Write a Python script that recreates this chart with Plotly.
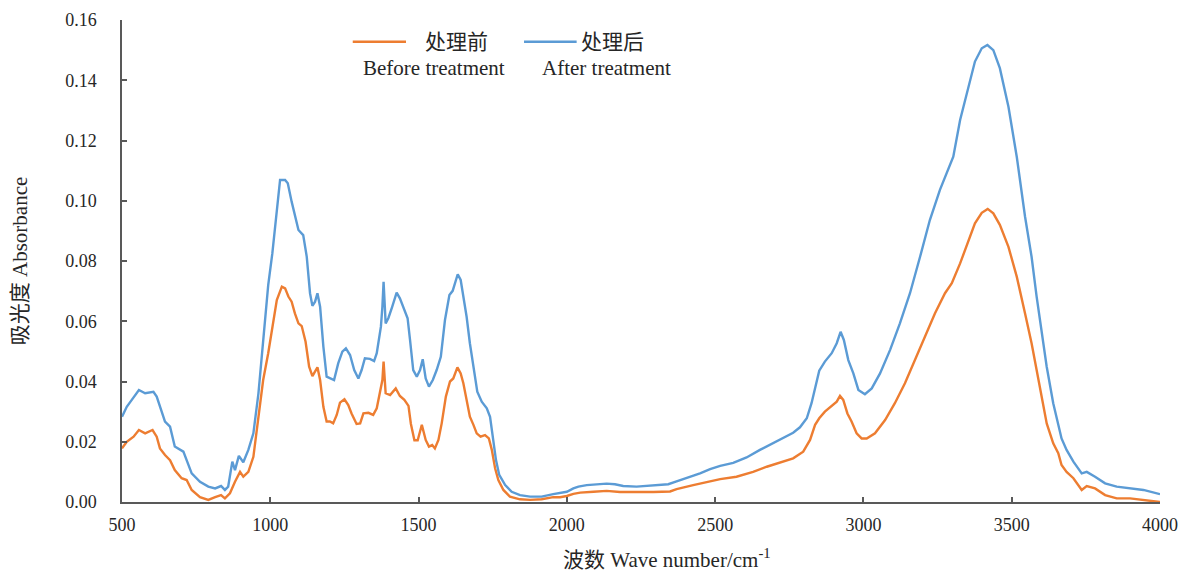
import plotly.graph_objects as go

# ---- data ----
wn_before = [500, 516, 539, 557, 578, 603, 617, 628, 645, 662, 678, 701, 718, 735, 763, 791, 814, 834, 847,
             864, 881, 898, 909, 926, 943, 960, 976, 993, 1010, 1022, 1039, 1050, 1061, 1072, 1083, 1095,
             1106, 1119, 1131, 1142, 1159, 1168, 1179, 1190, 1201, 1212, 1224, 1235, 1250, 1263, 1274, 1291,
             1303, 1314, 1331, 1347, 1359, 1372, 1378, 1382, 1389, 1404, 1423, 1437, 1452, 1466, 1474, 1486,
             1497, 1511, 1524, 1535, 1546, 1555, 1567, 1578, 1592, 1606, 1617, 1631, 1642, 1651, 1662, 1673,
             1685, 1696, 1709, 1724, 1737, 1747, 1758, 1769, 1786, 1808, 1842, 1876, 1915, 1954, 1977, 2000,
             2022, 2045, 2090, 2134, 2179, 2235, 2292, 2348, 2370, 2426, 2483, 2517, 2572, 2628, 2674, 2719,
             2763, 2797, 2820, 2837, 2851, 2870, 2893, 2910, 2921, 2932, 2946, 2960, 2977, 2994, 3011, 3039,
             3073, 3106, 3140, 3174, 3208, 3241, 3275, 3298, 3326, 3354, 3376, 3399, 3419, 3438, 3460, 3489,
             3517, 3545, 3567, 3584, 3601, 3618, 3640, 3657, 3668, 3685, 3708, 3736, 3753, 3781, 3815, 3854,
             3899, 3944, 4000]
abs_before = [0.0178, 0.0200, 0.0217, 0.0239, 0.0228, 0.0239, 0.0217, 0.0178, 0.0156, 0.0139, 0.0106, 0.0079,
              0.0073, 0.0040, 0.0016, 0.0007, 0.0016, 0.0023, 0.0012, 0.0029, 0.0067, 0.0100, 0.0084, 0.0100,
              0.0150, 0.0272, 0.0405, 0.0494, 0.0590, 0.0670, 0.0715, 0.0709, 0.0682, 0.0665, 0.0626, 0.0593,
              0.0584, 0.0532, 0.0449, 0.0418, 0.0447, 0.0405, 0.0316, 0.0267, 0.0267, 0.0261, 0.0289, 0.0330,
              0.0341, 0.0322, 0.0294, 0.0259, 0.0261, 0.0294, 0.0296, 0.0289, 0.0311, 0.0372, 0.0405, 0.0466,
              0.0361, 0.0355, 0.0377, 0.0352, 0.0339, 0.0319, 0.0260, 0.0205, 0.0205, 0.0256, 0.0206, 0.0184,
              0.0189, 0.0178, 0.0206, 0.0261, 0.0350, 0.0400, 0.0410, 0.0447, 0.0427, 0.0394, 0.0339, 0.0283,
              0.0256, 0.0228, 0.0217, 0.0222, 0.0211, 0.0173, 0.0112, 0.0073, 0.0040, 0.0018, 0.0009, 0.0007,
              0.0009, 0.0016, 0.0016, 0.0020, 0.0027, 0.0031, 0.0034, 0.0037, 0.0033, 0.0032, 0.0033, 0.0035,
              0.0043, 0.0056, 0.0070, 0.0076, 0.0084, 0.0100, 0.0117, 0.0130, 0.0145, 0.0167, 0.0206, 0.0256,
              0.0278, 0.0300, 0.0319, 0.0333, 0.0352, 0.0339, 0.0294, 0.0267, 0.0228, 0.0211, 0.0211, 0.0228,
              0.0272, 0.0328, 0.0394, 0.0471, 0.0549, 0.0626, 0.0693, 0.0726, 0.0792, 0.0870, 0.0925, 0.0960,
              0.0973, 0.0958, 0.0920, 0.0847, 0.0748, 0.0626, 0.0527, 0.0438, 0.0350, 0.0261, 0.0195, 0.0162,
              0.0123, 0.0100, 0.0079, 0.0040, 0.0053, 0.0045, 0.0023, 0.0012, 0.0012, 0.0007, 0.0000]

wn_after = [500, 516, 533, 557, 578, 606, 617, 628, 645, 662, 678, 707, 718, 735, 763, 791, 814, 834, 847,
            858, 872, 881, 894, 909, 926, 943, 960, 976, 993, 1007, 1022, 1033, 1050, 1059, 1072, 1086, 1095,
            1111, 1123, 1134, 1142, 1151, 1159, 1168, 1179, 1190, 1201, 1215, 1229, 1243, 1255, 1269, 1283,
            1297, 1308, 1319, 1336, 1350, 1359, 1373, 1378, 1382, 1389, 1398, 1411, 1426, 1437, 1449, 1463,
            1471, 1482, 1494, 1505, 1514, 1524, 1535, 1548, 1561, 1575, 1589, 1604, 1615, 1625, 1632, 1642,
            1651, 1662, 1673, 1685, 1698, 1713, 1730, 1741, 1752, 1761, 1772, 1792, 1814, 1842, 1876, 1915,
            1954, 1977, 2000, 2022, 2039, 2067, 2101, 2134, 2162, 2190, 2235, 2292, 2342, 2365, 2404, 2449,
            2483, 2517, 2561, 2606, 2651, 2696, 2730, 2763, 2786, 2809, 2825, 2840, 2851, 2870, 2893, 2910,
            2923, 2934, 2949, 2966, 2983, 3005, 3028, 3056, 3090, 3123, 3157, 3191, 3224, 3258, 3286, 3303,
            3326, 3354, 3376, 3399, 3418, 3438, 3460, 3489, 3517, 3545, 3567, 3584, 3601, 3618, 3640, 3657,
            3668, 3685, 3708, 3736, 3753, 3781, 3815, 3854, 3899, 3944, 4000]
abs_after = [0.0283, 0.0316, 0.0339, 0.0372, 0.0361, 0.0366, 0.0350, 0.0316, 0.0267, 0.0250, 0.0184, 0.0167,
             0.0139, 0.0095, 0.0067, 0.0051, 0.0045, 0.0053, 0.0040, 0.0051, 0.0134, 0.0106, 0.0153, 0.0132,
             0.0173, 0.0228, 0.0360, 0.0527, 0.0720, 0.0826, 0.0980, 0.1069, 0.1069, 0.1058, 0.0997, 0.0936,
             0.0903, 0.0886, 0.0814, 0.0693, 0.0651, 0.0665, 0.0693, 0.0648, 0.0516, 0.0416, 0.0410, 0.0405,
             0.0460, 0.0499, 0.0510, 0.0488, 0.0438, 0.0410, 0.0438, 0.0477, 0.0475, 0.0468, 0.0494, 0.0582,
             0.0648, 0.0731, 0.0593, 0.0610, 0.0648, 0.0695, 0.0676, 0.0648, 0.0610, 0.0540, 0.0438, 0.0416,
             0.0438, 0.0474, 0.0410, 0.0383, 0.0405, 0.0438, 0.0482, 0.0604, 0.0687, 0.0701, 0.0737, 0.0756,
             0.0737, 0.0682, 0.0615, 0.0527, 0.0449, 0.0366, 0.0333, 0.0311, 0.0283, 0.0206, 0.0139, 0.0090,
             0.0056, 0.0034, 0.0023, 0.0018, 0.0018, 0.0026, 0.0029, 0.0034, 0.0045, 0.0051, 0.0056, 0.0059,
             0.0061, 0.0059, 0.0053, 0.0051, 0.0054, 0.0059, 0.0067, 0.0079, 0.0095, 0.0109, 0.0120, 0.0130,
             0.0148, 0.0173, 0.0197, 0.0213, 0.0230, 0.0248, 0.0278, 0.0328, 0.0394, 0.0436, 0.0466, 0.0494,
             0.0527, 0.0565, 0.0538, 0.0471, 0.0427, 0.0372, 0.0358, 0.0377, 0.0427, 0.0505, 0.0593, 0.0693,
             0.0814, 0.0936, 0.1036, 0.1108, 0.1146, 0.1268, 0.1379, 0.1462, 0.1506, 0.1517, 0.1500, 0.1440,
             0.1312, 0.1146, 0.0947, 0.0814, 0.0682, 0.0571, 0.0449, 0.0328, 0.0261, 0.0211, 0.0173, 0.0134,
             0.0095, 0.0100, 0.0084, 0.0062, 0.0051, 0.0045, 0.0040, 0.0026]

x_ticks = [500, 1000, 1500, 2000, 2500, 3000, 3500, 4000]
y_ticks = [0.00, 0.02, 0.04, 0.06, 0.08, 0.10, 0.12, 0.14, 0.16]

name_before_cn, name_before_en = "处理前", "Before treatment"
name_after_cn, name_after_en = "处理后", "After treatment"
x_title = "波数 Wave number/cm<sup>-1</sup>"
y_title = "吸光度 Absorbance"

ORANGE = "#ED7D31"
BLUE = "#5B9BD5"
AXIS = "#595959"
SERIF = "Liberation Serif, Times New Roman, serif"
CJK_SERIF = "Liberation Serif, Noto Sans CJK SC, serif"

fig = go.Figure()
fig.add_trace(go.Scatter(x=wn_before, y=abs_before, mode="lines", name=name_before_cn,
                         line=dict(color=ORANGE, width=2.4), showlegend=False))
fig.add_trace(go.Scatter(x=wn_after, y=abs_after, mode="lines", name=name_after_cn,
                         line=dict(color=BLUE, width=2.4), showlegend=False))

# custom legend (line samples + two-line labels)
fig.add_shape(type="line", xref="paper", yref="paper", x0=0.2223, x1=0.2736, y0=0.955, y1=0.955,
              line=dict(color=ORANGE, width=2.5))
fig.add_shape(type="line", xref="paper", yref="paper", x0=0.3873, x1=0.438, y0=0.955, y1=0.955,
              line=dict(color=BLUE, width=2.5))
ann_font = dict(family=CJK_SERIF, size=21, color="#262626")
fig.add_annotation(xref="paper", yref="paper", x=0.3224, y=0.955, text=name_before_cn, showarrow=False,
                   font=ann_font, xanchor="center", yanchor="middle")
fig.add_annotation(xref="paper", yref="paper", x=0.3006, y=0.8998, text=name_before_en, showarrow=False,
                   font=ann_font, xanchor="center", yanchor="middle")
fig.add_annotation(xref="paper", yref="paper", x=0.4725, y=0.955, text=name_after_cn, showarrow=False,
                   font=ann_font, xanchor="center", yanchor="middle")
fig.add_annotation(xref="paper", yref="paper", x=0.467, y=0.8998, text=name_after_en, showarrow=False,
                   font=ann_font, xanchor="center", yanchor="middle")

# x-axis title (centred on the chart area, slightly right of the plot centre as in the reference)
fig.add_annotation(xref="paper", yref="paper", x=0.525, y=-0.117, text=x_title, showarrow=False,
                   font=ann_font, xanchor="center", yanchor="middle", borderpad=0)

fig.update_layout(
    width=1180, height=565,
    margin=dict(l=114, r=28, t=12, b=71),
    paper_bgcolor="white", plot_bgcolor="white",
    font=dict(family=SERIF, size=18, color="#262626"),
    xaxis=dict(range=[500, 4000], tickvals=x_ticks, ticktext=[str(v) for v in x_ticks],
               automargin=False,
               showgrid=False, zeroline=False, showline=True, linecolor=AXIS, linewidth=1.5,
               ticks="inside", ticklen=5, tickwidth=1.5, tickcolor=AXIS,
               ticklabelstandoff=6),
    yaxis=dict(range=[0, 0.16], tickvals=y_ticks, ticktext=[f"{v:.2f}" for v in y_ticks],
               automargin=False,
               showgrid=False, zeroline=False, showline=True, linecolor=AXIS, linewidth=1.5,
               ticks="inside", ticklen=5, tickwidth=1.5, tickcolor=AXIS,
               ticklabelstandoff=20,
               title=dict(text=y_title, standoff=34, font=dict(family=CJK_SERIF, size=21))),
)

fig.write_html("out.html")
